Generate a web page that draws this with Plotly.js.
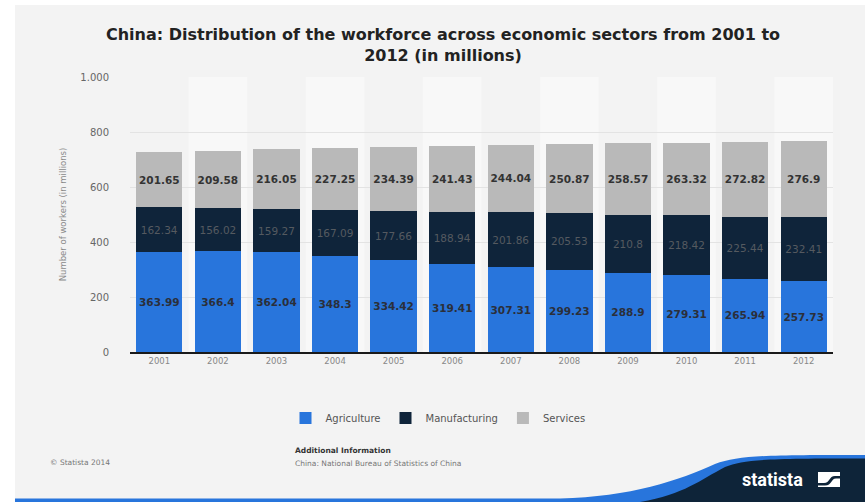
<!DOCTYPE html>
<html>
<head>
<meta charset="utf-8">
<script src="https://cdn.plot.ly/plotly-3.0.1.min.js"></script>
<style>
html,body{margin:0;padding:0;background:#ffffff;}
#chart{width:865px;height:502px;}
</style>
</head>
<body>
<div id="chart"></div>
<script>
var years = ["2001","2002","2003","2004","2005","2006","2007","2008","2009","2010","2011","2012"];
var agriculture = [363.99,366.4,362.04,348.3,334.42,319.41,307.31,299.23,288.9,279.31,265.94,257.73];
var manufacturing = [162.34,156.02,159.27,167.09,177.66,188.94,201.86,205.53,210.8,218.42,225.44,232.41];
var services = [201.65,209.58,216.05,227.25,234.39,241.43,244.04,250.87,258.57,263.32,272.82,276.9];
var yTickVals = [0,200,400,600,800,1000];
var yTickText = ["0","200","400","600","800","1.000"];

var W = 865, H = 502, ML = 130, MR = 32, MT = 77, MB = 150;
var PW = W - ML - MR, PH = H - MT - MB;
function px(x){ return (x - ML) / PW; }
function py(y){ return (H - MB - y) / PH; }

var fontFam = "'DejaVu Sans', sans-serif";

function bar(name, vals, color, tcolor, bold){
  return {
    type: 'bar', name: name, x: years, y: vals, marker: {color: color},
    text: vals.map(function(v){ return String(v); }),
    texttemplate: bold ? '<b>%{text}</b>' : '%{text}',
    textposition: 'inside', insidetextanchor: 'middle', textangle: 0,
    textfont: {color: tcolor, size: 10.5, family: fontFam},
    constraintext: 'none', cliponaxis: false, hoverinfo: 'x+y+name'
  };
}

var data = [
  bar('Agriculture', agriculture, '#2875dc', '#2b2f3a', true),
  bar('Manufacturing', manufacturing, '#0f243a', '#555a60', false),
  bar('Services', services, '#b9b9b9', '#333333', true)
];

var shapes = [];
shapes.push({type:'rect', xref:'paper', yref:'paper', x0:px(15), x1:px(865), y0:py(502), y1:py(5),
  fillcolor:'#f3f3f3', line:{width:0}, layer:'below'});
years.forEach(function(y, i){
  if (i % 2 === 1) {
    shapes.push({type:'rect', xref:'x', yref:'paper', x0:i-0.5, x1:i+0.5, y0:0, y1:1,
      fillcolor:'#f8f8f8', line:{width:0}, layer:'below'});
  }
});
function P(x,y){ return px(x).toFixed(4)+','+py(y).toFixed(4); }
shapes.push({type:'path', xref:'paper', yref:'paper', layer:'above',
  path:'M '+P(15,498.5)+' L '+P(560,498.5)+' C '+P(630,497)+' '+P(680,480)+' '+P(715,464)+' C '+P(740,455)+' '+P(770,455)+' '+P(865,455)+' L '+P(865,502)+' L '+P(15,502)+' Z',
  fillcolor:'#2875dc', line:{width:0}});
shapes.push({type:'path', xref:'paper', yref:'paper', layer:'above',
  path:'M '+P(640,502)+' C '+P(685,494)+' '+P(700,480)+' '+P(725,467)+' C '+P(745,459)+' '+P(770,458.5)+' '+P(865,458.5)+' L '+P(865,502)+' Z',
  fillcolor:'#0e2439', line:{width:0}});
shapes.push({type:'rect', xref:'paper', yref:'paper', layer:'above', x0:px(818), x1:px(840), y0:py(487), y1:py(472),
  fillcolor:'#ffffff', line:{width:0}});
shapes.push({type:'path', xref:'paper', yref:'paper', layer:'above',
  path:'M '+P(818,483)+' L '+P(824,483)+' C '+P(830,483)+' '+P(829,476)+' '+P(835,476)+' L '+P(840,476)+' L '+P(840,478.5)+' L '+P(836,478.5)+' C '+P(831,478.5)+' '+P(832,485.5)+' '+P(825,485.5)+' L '+P(818,485.5)+' Z',
  fillcolor:'#0e2439', line:{width:0}});

var annotations = [
  {text:'statista', xref:'paper', yref:'paper', x:px(772), y:py(479), showarrow:false,
   font:{family:'Roboto, sans-serif', size:18, color:'#ffffff', weight:700}, xanchor:'center', yanchor:'middle'},
  {text:'© Statista 2014', xref:'paper', yref:'paper', x:px(48), y:py(462), showarrow:false,
   font:{family:fontFam, size:7.5, color:'#777777'}, xanchor:'left', yanchor:'middle'},
  {text:'<b>Additional Information</b>', xref:'paper', yref:'paper', x:px(293), y:py(451), showarrow:false,
   font:{family:fontFam, size:7.5, color:'#333333'}, xanchor:'left', yanchor:'middle'},
  {text:'China: National Bureau of Statistics of China', xref:'paper', yref:'paper', x:px(293), y:py(463), showarrow:false,
   font:{family:fontFam, size:7.5, color:'#777777'}, xanchor:'left', yanchor:'middle'}
];

var layout = {
  width: W, height: H,
  margin: {l: ML, r: MR, t: MT, b: MB, pad: 0},
  paper_bgcolor: '#ffffff', plot_bgcolor: 'rgba(0,0,0,0)',
  font: {family: fontFam, color: '#666666'},
  title: {text: '<b>China: Distribution of the workforce across economic sectors from 2001 to<br>2012 (in millions)</b>',
    font: {family: fontFam, size: 16, color: '#222222'}, x: 443/865, xref: 'container', xanchor: 'center',
    y: 1 - 40/502, yref: 'container', yanchor: 'middle'},
  barmode: 'stack', bargap: 0.21,
  showlegend: true,
  legend: {orientation: 'h', x: px(438), xanchor: 'center', y: py(418), yanchor: 'middle',
    font: {family: fontFam, size: 10, color: '#555555'}, bgcolor: 'rgba(0,0,0,0)', traceorder: 'normal',
    itemwidth: 30},
  xaxis: {type: 'category', showgrid: false, showline: true, linecolor: '#1a1a1a', linewidth: 1.5,
    ticks: '', tickfont: {size: 8.5, color: '#888888'}, fixedrange: true, automargin: false},
  yaxis: {range: [0, 1000], tickvals: yTickVals, ticktext: yTickText, showgrid: true, gridcolor: '#e3e3e3',
    gridwidth: 1, zeroline: false, showline: false, ticks: '', ticklabelstandoff: 20,
    tickfont: {size: 10, color: '#666666'}, automargin: false,
    title: {text: 'Number of workers (in millions)', font: {size: 8.5, color: '#8a8a8a'}, standoff: 12}},
  shapes: shapes,
  annotations: annotations
};

Plotly.newPlot('chart', data, layout, {displayModeBar: false, staticPlot: true});
</script>
</body>
</html>
